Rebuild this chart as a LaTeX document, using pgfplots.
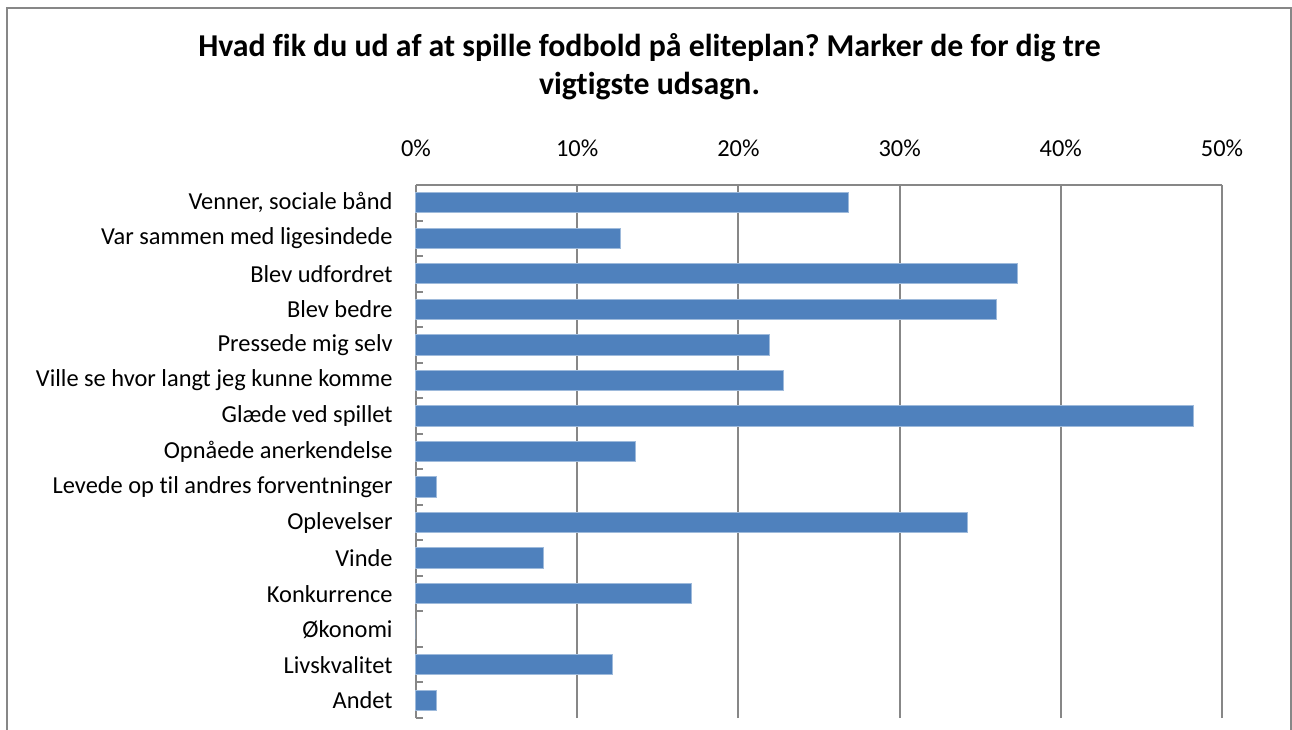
\documentclass[border=0pt]{standalone}
\usepackage{pgfplots}
\pgfplotsset{compat=1.18}
\usepackage{fontspec}
\setmainfont{Carlito}[Ligatures=NoCommon]
\frenchspacing
\definecolor{barblue}{HTML}{4F81BD}
\definecolor{gridgray}{HTML}{878787}
\begin{document}
\begin{tikzpicture}
\begin{axis}[
  name=ax,
  scale only axis, width=403pt, height=266.5pt,
  clip=false,
  xmin=0, xmax=50, ymin=-0.5, ymax=14.5,
  axis x line*=top, axis y line*=left,
  axis line style={-, draw=gridgray, line width=1pt},
  xtick={0,10,20,30,40,50},
  xticklabels={0\%,10\%,20\%,30\%,40\%,50\%},
  xmajorgrids, grid style={gridgray, line width=1pt},
  major x tick style={draw=none},
  ytick={0,1,...,14},
  yticklabels={Andet, Livskvalitet, Økonomi, Konkurrence, Vinde, Oplevelser, Levede op til andres forventninger, Opnåede anerkendelse, Glæde ved spillet, Ville se hvor langt jeg kunne komme, Pressede mig selv, Blev bedre, Blev udfordret, Var sammen med ligesindede, {Venner, sociale bånd}},
  major y tick style={draw=none},
  minor ytick={-0.5,0.5,...,14.5},
  minor tick length=3.5pt,
  minor y tick style={gridgray, line width=1pt},
  tick align=inside,
  tick label style={font=\fontsize{12.2}{14}\selectfont},
  xticklabel style={anchor=south, inner sep=0pt, yshift=13.85pt},
  yticklabel style={anchor=east, inner sep=0pt, xshift=-11.5pt},
]
\addplot[xbar, bar width=0.57, fill=barblue, draw=barblue!55!white, line width=0.5pt]
coordinates {(26.8,14) (12.7,13) (37.3,12) (36.0,11) (21.9,10) (22.8,9) (48.2,8) (13.6,7) (1.3,6) (34.2,5) (7.9,4) (17.1,3) (0,2) (12.2,1) (1.3,0)};
\coordinate (pageSW) at (axis description cs:-0.5161,-0.02064);
\coordinate (pageNE) at (axis description cs:1.0868,1.3471);
\coordinate (bordSW) at (axis description cs:-0.5074,-0.1);
\coordinate (bordNE) at (axis description cs:1.0856,1.3321);
\draw[gridgray, line width=0.75pt] (bordSW) rectangle (bordNE);
\node[font=\bfseries\fontsize{15.9}{18}\selectfont, anchor=base] at (axis description cs:0.2897,1.2402) {Hvad fik du ud af at spille fodbold på eliteplan? Marker de for dig tre};
\node[font=\bfseries\fontsize{15.9}{18}\selectfont, anchor=base] at (axis description cs:0.2897,1.1707) {vigtigste udsagn.};
\end{axis}
\pgfresetboundingbox
\useasboundingbox (pageSW) rectangle (pageNE);
\end{tikzpicture}
\end{document}
